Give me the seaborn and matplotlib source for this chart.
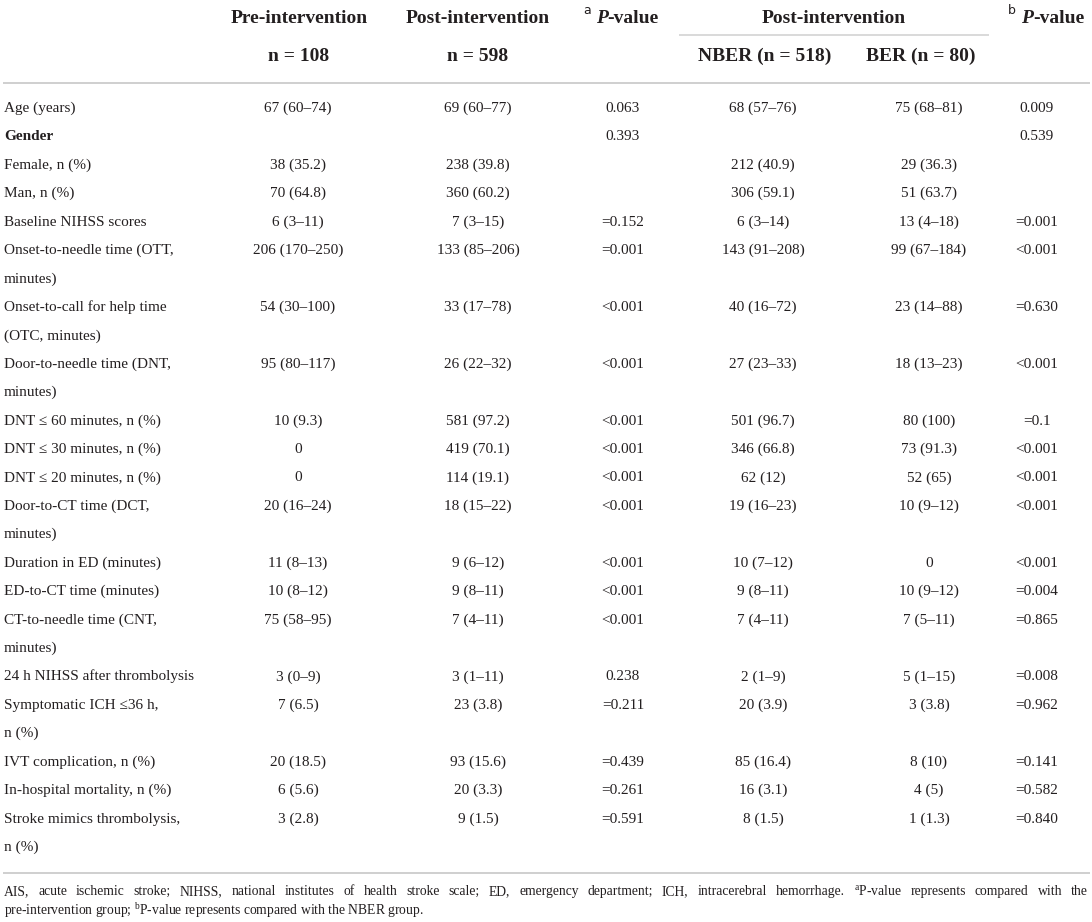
import numpy as np
import pandas as pd
import matplotlib
matplotlib.use("Agg")
import matplotlib.pyplot as plt
import seaborn as sns

# table content
labels = ["Age (years)", "Gender", "Female, n (%)", "Man, n (%)", "Baseline NIHSS scores",
          "Onset-to-needle time (OTT,\nminutes)", "Onset-to-call for help time\n(OTC, minutes)",
          "Door-to-needle time (DNT,\nminutes)", "DNT \u2264 60 minutes, n (%)",
          "DNT \u2264 30 minutes, n (%)", "DNT \u2264 20 minutes, n (%)",
          "Door-to-CT time (DCT,\nminutes)", "Duration in ED (minutes)", "ED-to-CT time (minutes)",
          "CT-to-needle time (CNT,\nminutes)", "24 h NIHSS after thrombolysis",
          "Symptomatic ICH \u226436 h,\nn (%)", "IVT complication, n (%)",
          "In-hospital mortality, n (%)", "Stroke mimics thrombolysis,\nn (%)"]
pre = ["67 (60–74)", "", "38 (35.2)", "70 (64.8)", "6 (3–11)", "206 (170–250)", "54 (30–100)",
       "95 (80–117)", "10 (9.3)", "0", "0", "20 (16–24)", "11 (8–13)", "10 (8–12)", "75 (58–95)",
       "3 (0–9)", "7 (6.5)", "20 (18.5)", "6 (5.6)", "3 (2.8)"]
post = ["69 (60–77)", "", "238 (39.8)", "360 (60.2)", "7 (3–15)", "133 (85–206)", "33 (17–78)",
        "26 (22–32)", "581 (97.2)", "419 (70.1)", "114 (19.1)", "18 (15–22)", "9 (6–12)",
        "9 (8–11)", "7 (4–11)", "3 (1–11)", "23 (3.8)", "93 (15.6)", "20 (3.3)", "9 (1.5)"]
p_a = ["0.063", "0.393", "", "", "=0.152", "=0.001", "<0.001", "<0.001", "<0.001", "<0.001",
       "<0.001", "<0.001", "<0.001", "<0.001", "<0.001", "0.238", "=0.211", "=0.439", "=0.261",
       "=0.591"]
nber = ["68 (57–76)", "", "212 (40.9)", "306 (59.1)", "6 (3–14)", "143 (91–208)", "40 (16–72)",
        "27 (23–33)", "501 (96.7)", "346 (66.8)", "62 (12)", "19 (16–23)", "10 (7–12)",
        "9 (8–11)", "7 (4–11)", "2 (1–9)", "20 (3.9)", "85 (16.4)", "16 (3.1)", "8 (1.5)"]
ber = ["75 (68–81)", "", "29 (36.3)", "51 (63.7)", "13 (4–18)", "99 (67–184)", "23 (14–88)",
       "18 (13–23)", "80 (100)", "73 (91.3)", "52 (65)", "10 (9–12)", "0", "10 (9–12)",
       "7 (5–11)", "5 (1–15)", "3 (3.8)", "8 (10)", "4 (5)", "1 (1.3)"]
p_b = ["0.009", "0.539", "", "", "=0.001", "<0.001", "=0.630", "<0.001", "=0.1", "<0.001",
       "<0.001", "<0.001", "<0.001", "=0.004", "=0.865", "=0.008", "=0.962", "=0.141", "=0.582",
       "=0.840"]
bold_rows = ["Gender"]

footnote_1 = ("AIS, acute ischemic stroke; NIHSS, national institutes of health stroke scale; "
              "ED, emergency department; ICH, intracerebral hemorrhage. $^{\\mathrm{a}}$P-value "
              "represents compared with the")
footnote_2 = ("pre-intervention group; $^{\\mathrm{b}}$P-value represents compared with the NBER group.")

table = pd.DataFrame({"label": labels, "pre": pre, "post": post, "p_a": p_a,
                      "nber": nber, "ber": ber, "p_b": p_b})

sns.set_theme(style="white")
plt.rcParams["font.family"] = ["Liberation Serif", "DejaVu Serif"]
plt.rcParams["mathtext.fontset"] = "custom"
plt.rcParams["mathtext.rm"] = "Liberation Serif"
plt.rcParams["mathtext.it"] = "Liberation Serif:italic"
plt.rcParams["mathtext.bf"] = "Liberation Serif:bold"

W, H = 1092, 922
fig = plt.figure(figsize=(W / 100, H / 100), dpi=100)
ax = fig.add_axes([0, 0, 1, 1])
ax.set_xlim(0, W)
ax.set_ylim(H, 0)
ax.axis("off")
renderer = fig.canvas.get_renderer()

TXT = "#231f20"
RULE = "#cfcfcf"
body_fs = 11.0
head_fs = 14.0
note_fs = 9.8

col_x = {"pre": 298, "post": 478, "p_a": 623, "nber": 763, "ber": 929, "p_b": 1037}
label_x = 4
row_h = 28.42
first_base = 112


def width_of(s, **kw):
    t = ax.text(0, 0, s, **kw)
    w = t.get_window_extent(renderer).width
    t.remove()
    return w


# header
hb = dict(fontsize=head_fs, fontweight="bold", color=TXT)
ax.text(299, 23, "Pre-intervention", ha="center", va="baseline", **hb)
ax.text(299, 61, "n = 108", ha="center", va="baseline", **hb)
ax.text(478, 23, "Post-intervention", ha="center", va="baseline", **hb)
ax.text(478, 61, "n = 598", ha="center", va="baseline", **hb)
ax.text(834, 23, "Post-intervention", ha="center", va="baseline", **hb)
ax.text(765, 61, "NBER (n = 518)", ha="center", va="baseline", **hb)
ax.text(921, 61, "BER (n = 80)", ha="center", va="baseline", **hb)
sup_kw = dict(fontsize=9, color=TXT, family="DejaVu Sans")
for xc, letter in [(621, "a"), (1046, "b")]:
    parts = [(letter, sup_kw),
             ("P", dict(fontsize=head_fs, fontweight="bold", fontstyle="italic", color=TXT)),
             ("-value", hb)]
    widths = [width_of(s, **kw) for s, kw in parts]
    x = xc - (sum(widths) + 5) / 2
    ax.text(x, 14, parts[0][0], ha="left", va="baseline", **parts[0][1])
    x += widths[0] + 5
    ax.text(x, 23, parts[1][0], ha="left", va="baseline", **parts[1][1])
    x += widths[1]
    ax.text(x, 23, parts[2][0], ha="left", va="baseline", **parts[2][1])

# rules
ax.hlines(35, 679, 989, color=RULE, lw=1.1)
ax.hlines(83, 3, 1090, color=RULE, lw=1.4)
ax.hlines(873, 3, 1090, color=RULE, lw=1.4)

# body rows
line = 0
for _, row in table.iterrows():
    y = first_base + line * row_h
    lines = row["label"].split("\n")
    weight = "bold" if row["label"] in bold_rows else "normal"
    for k, part in enumerate(lines):
        ax.text(label_x, y + k * row_h, part, ha="left", va="baseline",
                fontsize=body_fs, fontweight=weight, color=TXT)
    for col, xc in col_x.items():
        if row[col]:
            ax.text(xc, y, row[col], ha="center", va="baseline", fontsize=body_fs, color=TXT)
    line += len(lines)

# footnote, first line justified
words = footnote_1.split(" ")
ww = [width_of(w, fontsize=note_fs) for w in words]
x0, x1 = 4, 1088
space = (x1 - x0 - sum(ww)) / (len(words) - 1)
x = x0
for w, wd in zip(words, ww):
    ax.text(x, 895, w, ha="left", va="baseline", fontsize=note_fs, color=TXT)
    x += wd + space
ax.text(4, 915, footnote_2, ha="left", va="baseline", fontsize=note_fs, color=TXT)

fig.savefig("out.png", dpi=100, facecolor="white")
